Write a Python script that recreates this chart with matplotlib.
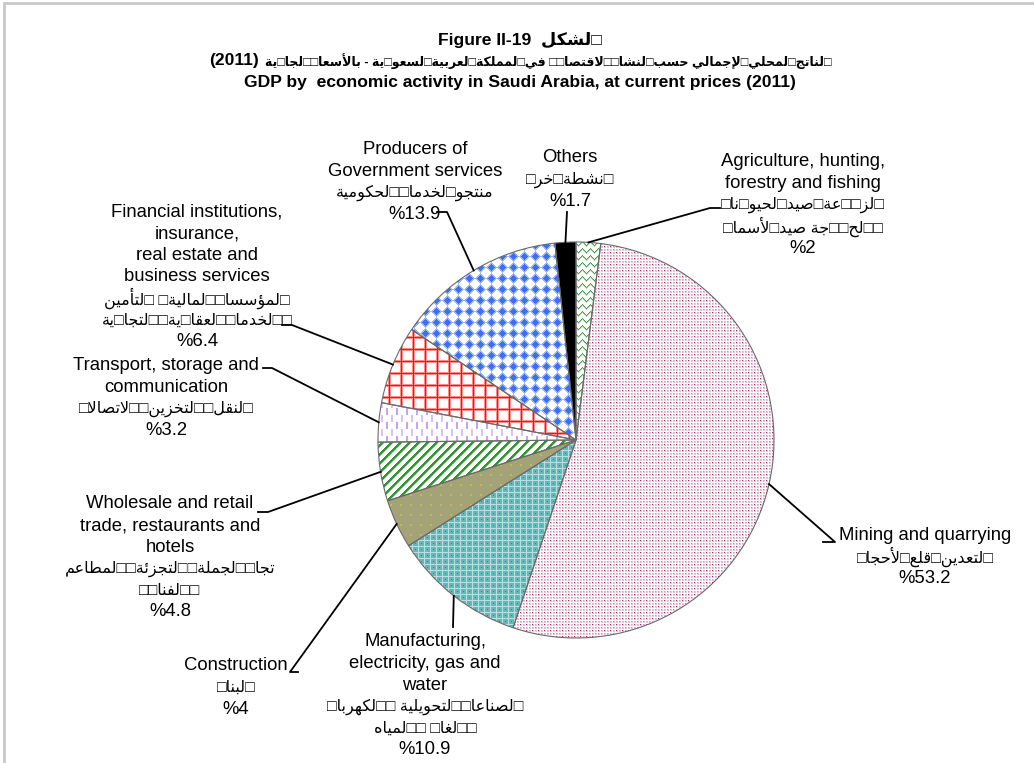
import numpy as np
import matplotlib
matplotlib.use("Agg")
import matplotlib.pyplot as plt
from matplotlib.colors import to_rgb
from matplotlib.patches import Rectangle

# GDP shares by economic activity, Saudi Arabia 2011 (%), clockwise from the top
sectors_en = [
    ["Agriculture, hunting,", "forestry and fishing"],
    ["Mining and quarrying"],
    ["Manufacturing,", "electricity, gas and", "water"],
    ["Construction"],
    ["Wholesale and retail", "trade, restaurants and", "hotels"],
    ["Transport, storage and", "communication"],
    ["Financial institutions,", "insurance,", "real estate and", "business services"],
    ["Producers of", "Government services"],
    ["Others"],
]
sectors_ar = [
    ["□لز□□عة□صيد□لحيو□نا□", "□□لح□□جة صيد□لأسما□"],
    ["□لتعدين□قلع□لأحجا□"],
    ["□لصناعا□□لتحويلية □□لكهربا□", "□□لغا□ □□لمياه"],
    ["□لبنا□"],
    ["تجا□□لجملة□□لتجزئة□□لمطاعم", "□□لفنا□□"],
    ["□لنقل□□لتخزين□□لاتصالا□"],
    ["□لمؤسسا□□لمالية□ □لتأمين", "□□لخدما□□لعقا□ية□□لتجا□ية"],
    ["منتجو□لخدما□□لحكومية"],
    ["□نشطة□خر□"],
]
shares = [2, 53.2, 10.9, 4, 4.8, 3.2, 6.4, 13.9, 1.7]

title_en = "GDP by  economic activity in Saudi Arabia, at current prices (2011)"
title_ar = "□لناتج□لمحلي□لإجمالي حسب□لنشا□□لاقتصا□□ في□لمملكة□لعربية□لسعو□ية - بالأسعا□□لجا□ية"
title_year = "(2011)"
fig_no = "Figure II-19"
fig_no_ar = "□لشكل"

patterns = ["waves", "pink_dots", "teal_grid", "olive_dots", "green_diag",
            "lilac_dash", "red_grid", "blue_dots", "black"]

# Arabic presentation forms (isolated code point; final/initial/medial follow)
AR_FORMS = {
    'ا': 0xFE8D, 'أ': 0xFE83, 'إ': 0xFE87, 'ؤ': 0xFE85, 'ة': 0xFE93, 'د': 0xFEA9,
    'ذ': 0xFEAB, 'ر': 0xFEAD, 'ز': 0xFEAF, 'و': 0xFEED, 'ى': 0xFEEF,
    'ئ': 0xFE89, 'ب': 0xFE8F, 'ت': 0xFE95, 'ج': 0xFE9D, 'ح': 0xFEA1, 'خ': 0xFEA5,
    'س': 0xFEB1, 'ش': 0xFEB5, 'ص': 0xFEB9, 'ط': 0xFEC1, 'ع': 0xFEC9, 'غ': 0xFECD,
    'ف': 0xFED1, 'ق': 0xFED5, 'ك': 0xFED9, 'ل': 0xFEDD, 'م': 0xFEE1, 'ن': 0xFEE5,
    'ه': 0xFEE9, 'ي': 0xFEF1,
}
RIGHT_ONLY = set('اأإؤةدذرزوى')
LAM_ALEF = {'ا': 0xFEFB, 'أ': 0xFEF7, 'إ': 0xFEF9}


def shape_ar(text):
    # join letters and put them in visual (left to right) order
    tokens = []
    i = 0
    while i < len(text):
        if text[i] == 'ل' and i + 1 < len(text) and text[i + 1] in LAM_ALEF:
            tokens.append(('LA', text[i + 1]))
            i += 2
        else:
            tokens.append((text[i], None))
            i += 1

    def joins(t):
        return t[0] == 'LA' or t[0] in AR_FORMS

    def dual(t):
        return t[0] in AR_FORMS and t[0] not in RIGHT_ONLY

    out = []
    for k, t in enumerate(tokens):
        if not joins(t):
            out.append(t[0])
            continue
        prev_j = k > 0 and dual(tokens[k - 1])
        next_j = dual(t) and k + 1 < len(tokens) and joins(tokens[k + 1])
        if t[0] == 'LA':
            out.append(chr(LAM_ALEF[t[1]] + int(prev_j)))
            continue
        if prev_j and next_j:
            off = 3
        elif prev_j:
            off = 1
        elif next_j:
            off = 2
        else:
            off = 0
        out.append(chr(AR_FORMS[t[0]] + off))
    return ''.join(out[::-1])


def make_tile(name):
    # small repeating fill patterns, row 0 at the top
    if name == "waves":
        t = np.ones((7, 8, 3))
        for c in range(8):
            r = int(round(3 + 1.6 * np.sin(2 * np.pi * c / 8)))
            t[r, c] = to_rgb("#4aa04a")
            t[min(r + 1, 6), c] = to_rgb("#a8d4a8")
        return t
    if name == "pink_dots":
        t = np.ones((6, 6, 3))
        for r in range(0, 6, 3):
            for c in range(0, 6, 3):
                t[r:r + 2, c:c + 2] = to_rgb("#e9c1dc")
        t[0, 0] = to_rgb("#9e2f6b")
        t[3, 3] = to_rgb("#cc86b2")
        t[0, 3] = to_rgb("#dca3c8")
        t[3, 0] = to_rgb("#dca3c8")
        return t
    if name == "teal_grid":
        t = np.zeros((6, 6, 3)) + to_rgb("#66b8b8")
        t[0, :] = to_rgb("#b8e0e0")
        t[:, 0] = to_rgb("#b8e0e0")
        t[3, 3] = to_rgb("#1f8a8a")
        return t
    if name == "olive_dots":
        t = np.zeros((10, 10, 3)) + to_rgb("#a4a377")
        t[4:6, 4:6] = to_rgb("#bdbc56")
        return t
    if name == "green_diag":
        t = np.ones((9, 9, 3))
        for r in range(9):
            for c in range(9):
                d = (r + c) % 9
                if d < 3:
                    t[r, c] = to_rgb("#339433")
                elif d == 3:
                    t[r, c] = to_rgb("#9ccc9c")
        return t
    if name == "lilac_dash":
        t = np.ones((14, 10, 3))
        t[0:7, 0:2] = to_rgb("#c7a4f3")
        t[7:14, 5:7] = to_rgb("#d9c2f7")
        return t
    if name == "red_grid":
        t = np.ones((12, 12, 3))
        t[0:3, :] = to_rgb("#ff8a8a")
        t[:, 0:3] = to_rgb("#ff8a8a")
        t[1, :] = to_rgb("#ff1010")
        t[:, 1] = to_rgb("#ff1010")
        return t
    if name == "blue_dots":
        t = np.ones((11, 11, 3))
        for r in range(11):
            for c in range(11):
                d = abs(r - 5) + abs(c - 5)
                if d <= 3:
                    t[r, c] = to_rgb("#3e6fee")
                elif d <= 5:
                    t[r, c] = to_rgb("#9db6f6")
        return t
    return np.zeros((2, 2, 3))


FONT_EN = ['Liberation Sans', 'DejaVu Sans']
W, H = 1034, 763


def Y(y):
    return H - y


fig = plt.figure(figsize=(W / 100, H / 100), dpi=100)
ax = fig.add_axes([0, 0, 1, 1])

cx, cy = 576, Y(440)
radius = 198

wedges, _ = ax.pie(shares, startangle=90, counterclock=False, center=(cx, cy),
                   radius=radius, frame=True,
                   wedgeprops=dict(facecolor='none', linewidth=0))

# fill each wedge with its pattern, clipped to the wedge
n = 2 * radius + 4
x0, y0 = cx - n // 2, cy - n // 2
for w, name in zip(wedges, patterns):
    tile = make_tile(name)
    th, tw = tile.shape[:2]
    img = np.tile(tile, (n // th + 1, n // tw + 1, 1))[:n, :n]
    im = ax.imshow(img, extent=(x0, x0 + n, y0, y0 + n), origin='upper',
                   interpolation='nearest', zorder=1.5)
    im.set_clip_path(w)

outline, _ = ax.pie(shares, startangle=90, counterclock=False, center=(cx, cy),
                    radius=radius, frame=True,
                    wedgeprops=dict(fill=False, edgecolor="#6a6a6a", linewidth=0.8))
for w in outline:
    w.set_zorder(2)

ax.set_xlim(0, W)
ax.set_ylim(0, H)
ax.set_aspect('equal')
ax.axis('off')

# first line centre (px) of each label and leader points (px, text side first)
label_pos = [(803, 162), (925, 535), (425, 642), (236, 666), (170, 504),
             (166, 366), (197, 212), (415, 150), (570, 158)]
leader_pts = [[(720, 208), (710, 208)], [(823, 542), (835, 542)],
              [(453, 627)], [(298, 672), (290, 672)], [(258, 512), (268, 512)],
              [(263, 368), (272, 368)], [(282, 325), (292, 325)],
              [(437, 212), (447, 212)], [(567, 212)]]
line_step = 21.6

for w, en, ar, v, pos, pts in zip(wedges, sectors_en, sectors_ar, shares,
                                   label_pos, leader_pts):
    lines = [(s, 13.3) for s in en]
    lines += [(shape_ar(s), 11.5) for s in ar]
    lines += [(f"%{v:g}", 13.3)]
    for i, (s, size) in enumerate(lines):
        ax.text(pos[0], Y(pos[1] + i * line_step), s, ha='center', va='center',
                fontsize=size, family=FONT_EN)
    ang = np.deg2rad((w.theta1 + w.theta2) / 2)
    edge = (cx + radius * np.cos(ang), cy + radius * np.sin(ang))
    xs = [p[0] for p in pts] + [edge[0]]
    ys = [Y(p[1]) for p in pts] + [edge[1]]
    ax.plot(xs, ys, color='black', lw=1.3, zorder=3)

ax.text(520, Y(40), fig_no + "  " + shape_ar(fig_no_ar), ha='center', va='center',
        fontsize=12.6, fontweight='bold', family=FONT_EN)
year = ax.text(0, Y(61), title_year, ha='left', va='center',
               fontsize=12.6, fontweight='bold', family=FONT_EN)
ar_title = ax.text(0, Y(61), shape_ar(title_ar), ha='left', va='center',
                   fontsize=9, fontweight='bold', family=FONT_EN)
ax.text(520, Y(83), title_en, ha='center', va='center',
        fontsize=12.6, fontweight='bold', family=FONT_EN)

# centre the year + Arabic title line on the figure title
fig.canvas.draw()
w_year = year.get_window_extent().width
w_ar = ar_title.get_window_extent().width
gap = 6
left = 520 - (w_year + gap + w_ar) / 2
year.set_x(left)
ar_title.set_x(left + w_year + gap)

# grey frame of the chart area
fig.patches.append(Rectangle((4, -10), W, H - 3 + 10, transform=None, fill=False,
                             edgecolor='#c8c8c8', lw=2))

fig.savefig("out.png", dpi=100)
